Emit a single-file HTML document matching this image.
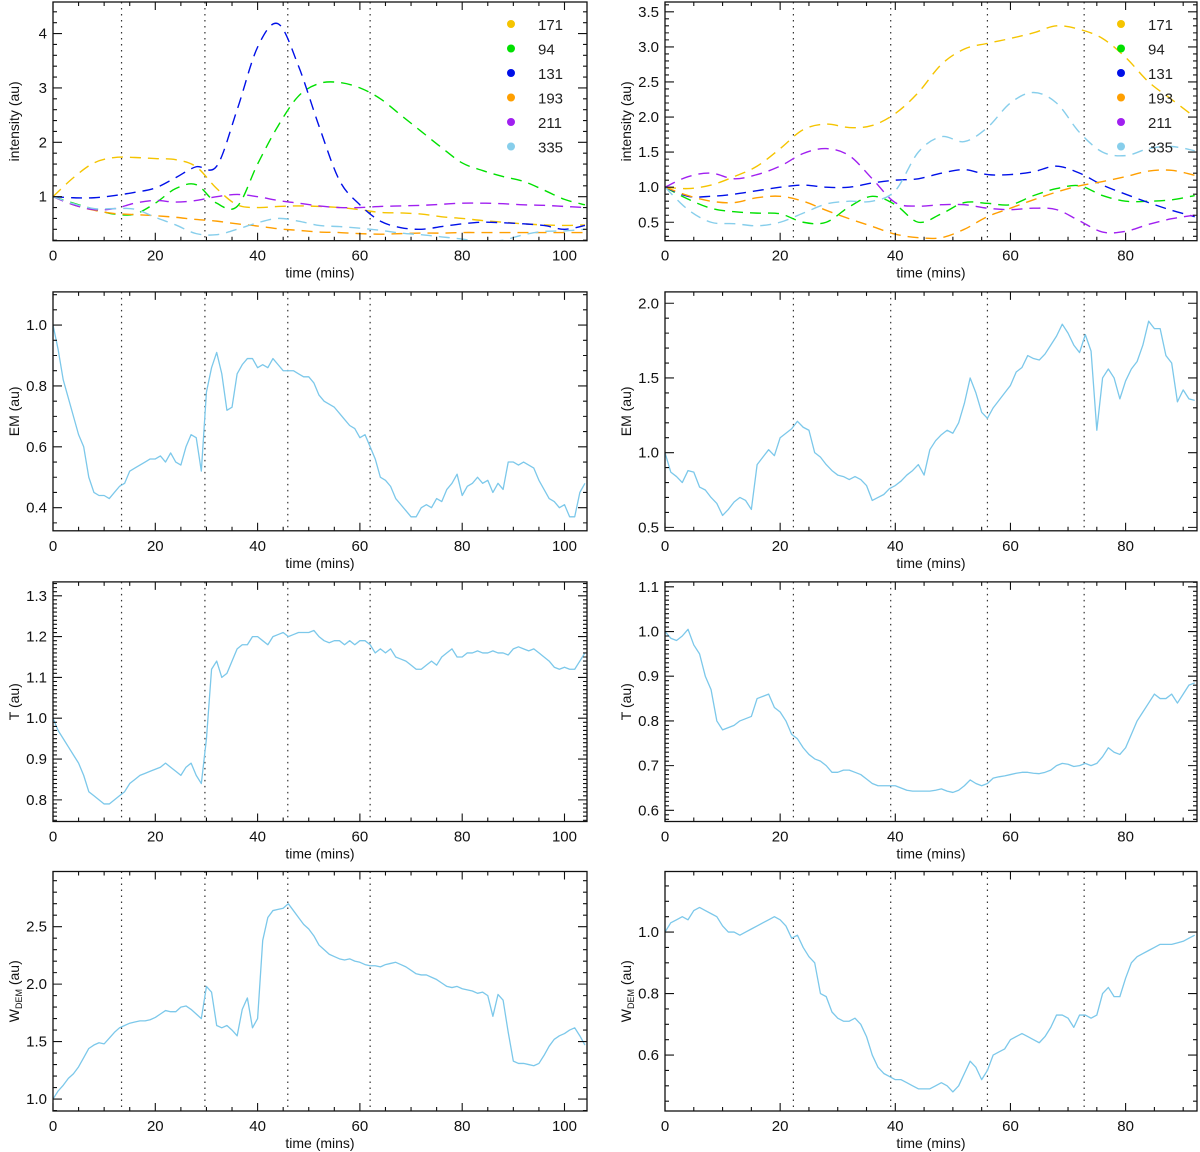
<!DOCTYPE html>
<html><head><meta charset="utf-8">
<style>
html,body{margin:0;padding:0;background:#fff;}
svg{display:block;font-family:"Liberation Sans",Arial,sans-serif;}
</style></head>
<body>
<svg id="chart" width="1200" height="1152" viewBox="0 0 1200 1152" xmlns="http://www.w3.org/2000/svg"></svg>
<script>
// ---------- data ----------
const seriesNames = ["171","94","131","193","211","335"];
const seriesColors = ["#f5c400","#00e000","#0010e8","#ff9f00","#a020f0","#87ceeb"];
const intTimesL = [0,4,8,12,16,20,24,28,32,36,40,44,48,52,56,60,64,68,72,76,80,84,88,92,96,100,104];
const int171L = [1.0,1.35,1.62,1.72,1.72,1.70,1.68,1.55,1.15,0.85,0.80,0.82,0.83,0.82,0.80,0.76,0.71,0.70,0.68,0.63,0.60,0.56,0.53,0.50,0.48,0.47,0.48];
const int94L  = [1.0,0.88,0.77,0.68,0.68,0.88,1.15,1.22,0.88,0.82,1.6,2.3,2.85,3.08,3.10,3.0,2.8,2.5,2.2,1.9,1.62,1.48,1.37,1.28,1.12,0.95,0.85];
const int131L = [1.0,0.98,0.98,1.02,1.08,1.16,1.35,1.55,1.56,2.6,3.75,4.18,3.4,2.3,1.3,0.85,0.55,0.43,0.40,0.45,0.50,0.53,0.52,0.50,0.47,0.40,0.47];
const int193L = [1.0,0.85,0.75,0.69,0.67,0.65,0.62,0.58,0.55,0.50,0.46,0.41,0.38,0.35,0.34,0.32,0.31,0.32,0.33,0.33,0.34,0.34,0.34,0.34,0.34,0.34,0.34];
const int211L = [1.0,0.85,0.76,0.78,0.88,0.93,0.90,0.93,1.0,1.04,1.0,0.93,0.88,0.83,0.80,0.80,0.82,0.83,0.84,0.86,0.88,0.88,0.87,0.85,0.84,0.82,0.80];
const int335L = [1.0,0.87,0.78,0.78,0.77,0.62,0.48,0.32,0.30,0.40,0.52,0.60,0.55,0.47,0.45,0.42,0.38,0.33,0.30,0.26,0.22,0.17,0.20,0.30,0.36,0.37,0.40];
const intTimesR = [0,4,8,12,16,20,24,28,32,36,40,44,48,52,56,60,64,68,72,76,80,84,88,92];
const int171R = [1.0,0.98,1.03,1.15,1.3,1.55,1.82,1.90,1.85,1.88,2.05,2.35,2.75,2.97,3.05,3.12,3.2,3.3,3.25,3.12,2.85,2.5,2.25,2.0];
const int94R  = [1.0,0.83,0.70,0.65,0.63,0.62,0.50,0.50,0.72,0.87,0.75,0.50,0.62,0.78,0.77,0.75,0.88,0.98,1.02,0.88,0.80,0.80,0.82,0.88];
const int131R = [1.0,0.87,0.87,0.90,0.95,1.0,1.03,1.0,1.0,1.06,1.10,1.12,1.20,1.25,1.18,1.18,1.22,1.30,1.20,1.03,0.90,0.78,0.67,0.58];
const int193R = [1.0,0.88,0.80,0.78,0.85,0.87,0.80,0.67,0.55,0.44,0.33,0.28,0.28,0.40,0.58,0.70,0.82,0.93,1.02,1.08,1.15,1.23,1.24,1.17];
const int211R = [1.0,1.15,1.20,1.12,1.18,1.30,1.48,1.55,1.45,1.12,0.78,0.73,0.75,0.75,0.70,0.68,0.70,0.68,0.52,0.36,0.37,0.47,0.55,0.60];
const int335R = [1.0,0.68,0.50,0.48,0.45,0.50,0.63,0.76,0.80,0.80,0.95,1.5,1.72,1.65,1.85,2.2,2.35,2.2,1.78,1.5,1.45,1.55,1.58,1.52];

const emL = [1.0,0.92,0.82,0.76,0.70,0.64,0.60,0.50,0.45,0.44,0.44,0.43,0.45,0.47,0.48,0.52,0.53,0.54,0.55,0.56,0.56,0.57,0.55,0.58,0.55,0.54,0.60,0.64,0.63,0.52,0.78,0.86,0.91,0.84,0.72,0.73,0.84,0.87,0.89,0.89,0.86,0.87,0.86,0.89,0.87,0.85,0.85,0.85,0.84,0.83,0.83,0.81,0.77,0.75,0.74,0.73,0.71,0.69,0.67,0.66,0.63,0.64,0.60,0.56,0.50,0.49,0.47,0.43,0.41,0.39,0.37,0.37,0.40,0.41,0.40,0.43,0.42,0.46,0.48,0.51,0.44,0.47,0.48,0.50,0.48,0.49,0.45,0.48,0.46,0.55,0.55,0.54,0.55,0.54,0.53,0.49,0.46,0.43,0.42,0.40,0.41,0.37,0.37,0.45,0.48];
const tL = [1.0,0.97,0.95,0.93,0.91,0.89,0.86,0.82,0.81,0.80,0.79,0.79,0.80,0.81,0.82,0.84,0.85,0.86,0.865,0.87,0.875,0.88,0.89,0.88,0.87,0.86,0.88,0.89,0.86,0.84,0.95,1.12,1.14,1.10,1.11,1.14,1.17,1.18,1.18,1.20,1.20,1.19,1.18,1.20,1.205,1.21,1.20,1.205,1.21,1.21,1.21,1.215,1.20,1.19,1.185,1.19,1.19,1.18,1.19,1.18,1.19,1.19,1.18,1.16,1.17,1.16,1.17,1.15,1.145,1.14,1.13,1.12,1.12,1.13,1.14,1.13,1.15,1.16,1.17,1.15,1.15,1.16,1.16,1.165,1.16,1.16,1.165,1.16,1.16,1.155,1.17,1.175,1.17,1.165,1.17,1.16,1.15,1.14,1.125,1.12,1.125,1.12,1.12,1.14,1.16];
const wL = [1.0,1.07,1.12,1.18,1.22,1.28,1.36,1.44,1.47,1.49,1.48,1.53,1.58,1.62,1.64,1.66,1.67,1.68,1.68,1.69,1.71,1.74,1.77,1.76,1.76,1.80,1.81,1.78,1.74,1.70,1.98,1.93,1.64,1.62,1.64,1.60,1.55,1.78,1.88,1.62,1.70,2.38,2.58,2.64,2.65,2.66,2.70,2.64,2.58,2.52,2.48,2.42,2.34,2.30,2.26,2.24,2.22,2.21,2.22,2.20,2.19,2.17,2.16,2.16,2.15,2.17,2.18,2.19,2.17,2.15,2.12,2.09,2.08,2.08,2.06,2.04,2.01,1.98,1.97,1.98,1.96,1.95,1.94,1.92,1.93,1.90,1.72,1.91,1.86,1.58,1.33,1.31,1.31,1.30,1.29,1.31,1.38,1.46,1.52,1.55,1.57,1.60,1.62,1.55,1.47];
const emR = [1.0,0.87,0.84,0.80,0.88,0.87,0.77,0.75,0.70,0.66,0.58,0.62,0.67,0.70,0.68,0.62,0.92,0.97,1.02,0.98,1.10,1.13,1.16,1.21,1.17,1.15,1.00,0.97,0.92,0.88,0.85,0.84,0.82,0.84,0.82,0.78,0.68,0.70,0.72,0.76,0.78,0.81,0.85,0.88,0.92,0.85,1.02,1.08,1.12,1.15,1.13,1.20,1.33,1.50,1.40,1.27,1.23,1.30,1.35,1.40,1.45,1.54,1.57,1.65,1.63,1.62,1.66,1.72,1.78,1.86,1.80,1.72,1.67,1.79,1.68,1.15,1.50,1.56,1.50,1.36,1.48,1.56,1.61,1.72,1.88,1.83,1.83,1.65,1.60,1.34,1.42,1.36,1.35];
const tR = [1.0,0.985,0.98,0.99,1.005,0.97,0.95,0.90,0.87,0.80,0.78,0.785,0.79,0.80,0.805,0.81,0.85,0.855,0.86,0.83,0.82,0.80,0.77,0.76,0.74,0.725,0.715,0.71,0.70,0.685,0.685,0.69,0.69,0.685,0.68,0.67,0.66,0.655,0.655,0.655,0.655,0.65,0.645,0.643,0.643,0.643,0.643,0.645,0.648,0.643,0.64,0.645,0.655,0.668,0.66,0.655,0.66,0.672,0.675,0.677,0.68,0.683,0.685,0.685,0.683,0.682,0.685,0.69,0.70,0.705,0.703,0.698,0.70,0.705,0.70,0.705,0.72,0.74,0.73,0.725,0.74,0.77,0.80,0.82,0.84,0.86,0.85,0.85,0.86,0.84,0.86,0.88,0.885];
const wR = [1.0,1.03,1.04,1.05,1.04,1.07,1.08,1.07,1.06,1.05,1.02,1.0,1.0,0.99,1.0,1.01,1.02,1.03,1.04,1.05,1.04,1.02,0.98,0.99,0.95,0.92,0.90,0.80,0.79,0.74,0.72,0.71,0.71,0.72,0.70,0.66,0.60,0.56,0.54,0.53,0.52,0.52,0.51,0.50,0.49,0.49,0.49,0.50,0.51,0.50,0.48,0.50,0.54,0.58,0.56,0.52,0.55,0.60,0.61,0.62,0.65,0.66,0.67,0.66,0.65,0.64,0.66,0.69,0.73,0.73,0.72,0.69,0.73,0.73,0.72,0.73,0.80,0.82,0.79,0.79,0.85,0.90,0.92,0.93,0.94,0.95,0.96,0.96,0.96,0.965,0.97,0.98,0.99];
const eventsL = [13.4,29.7,45.9,62.0];
const eventsR = [22.3,39.2,56.0,72.8];
const xTicksL = [0,20,40,60,80,100];
const xTicksR = [0,20,40,60,80];

// ---------- layout ----------
const NS = "http://www.w3.org/2000/svg";
const svg = document.getElementById("chart");
function mk(tag, attrs, parent){ const e=document.createElementNS(NS,tag); for(const k in attrs) e.setAttribute(k,attrs[k]); (parent||svg).appendChild(e); return e; }

const colL = {x0:53, x1:587, xmax:104.4};
const colR = {x0:665, x1:1197, xmax:92.4};
const rows = [{y0:2,y1:240.7},{y0:291.9,y1:530.8},{y0:581.9,y1:821.5},{y0:871.5,y1:1111}];

function catmull(pts){
  if(pts.length<2) return "";
  let d="M"+pts[0][0].toFixed(2)+","+pts[0][1].toFixed(2);
  for(let i=0;i<pts.length-1;i++){
    const p0=pts[i-1]||pts[i], p1=pts[i], p2=pts[i+1], p3=pts[i+2]||p2;
    const c1=[p1[0]+(p2[0]-p0[0])/6, p1[1]+(p2[1]-p0[1])/6];
    const c2=[p2[0]-(p3[0]-p1[0])/6, p2[1]-(p3[1]-p1[1])/6];
    d+=" C"+c1[0].toFixed(2)+","+c1[1].toFixed(2)+" "+c2[0].toFixed(2)+","+c2[1].toFixed(2)+" "+p2[0].toFixed(2)+","+p2[1].toFixed(2);
  }
  return d;
}

let clipId=0;
function panel(opt){
  const {col,row,ymin,ymax,major,minor,dec,ylabel,name,events,xticks} = opt;
  const g = mk("g",{});
  
  
  const X = v => col.x0 + (v/col.xmax)*(col.x1-col.x0);
  const Y = v => row.y1 - (v-ymin)/(ymax-ymin)*(row.y1-row.y0);
  const cid = "clip"+(clipId++);
  const cp = mk("clipPath",{id:cid},g);
  mk("rect",{x:col.x0,y:row.y0,width:col.x1-col.x0,height:row.y1-row.y0},cp);

  // event lines
  events.forEach(ev=>{
    const l = mk("line",{x1:X(ev),x2:X(ev),y1:row.y0,y2:row.y1,stroke:"#333","stroke-width":1.2,"stroke-dasharray":"1.5,4.5"},g);
    
    
  });

  // data
  const dg = mk("g",{"clip-path":"url(#"+cid+")"},g);
  if(opt.series){
    opt.series.forEach((s,si)=>{
      const pts = s.vals.map((v,i)=>[X(opt.times[i]),Y(v)]);
      const p = mk("path",{d:catmull(pts),fill:"none",stroke:seriesColors[si],"stroke-width":1.4,"stroke-dasharray":"11,7"},dg);
      
      
    });
  } else {
    const pts = opt.vals.map((v,i)=>X(i).toFixed(2)+","+Y(v).toFixed(2)).join(" ");
    const p = mk("polyline",{points:pts,fill:"none",stroke:"#7cc8ea","stroke-width":1.3,"stroke-linejoin":"round"},dg);
    
    
  }

  // frame
  const fr = mk("rect",{x:col.x0,y:row.y0,width:col.x1-col.x0,height:row.y1-row.y0,fill:"none",stroke:"#111","stroke-width":1.3},g);
  
  

  // x ticks
  let tk="";
  for(let v=0; v<=col.xmax+0.001; v+=5){
    const len = (v%20===0)?8:4; const x=X(v);
    tk+=`M${x},${row.y1}v${-len}M${x},${row.y0}v${len}`;
  }
  // y ticks
  const n0=Math.ceil(ymin/minor-1e-6), n1=Math.floor(ymax/minor+1e-6);
  const ratio=Math.round(major/minor);
  for(let n=n0;n<=n1;n++){
    const v=n*minor, y=Y(v);
    const len = (n%ratio===0)?9:4;
    tk+=`M${col.x0},${y}h${len}M${col.x1},${y}h${-len}`;
  }
  mk("path",{d:tk,stroke:"#111","stroke-width":1.1,fill:"none"},g);

  xticks.forEach(v=>{
    const t=mk("text",{x:X(v),y:row.y1+20,"text-anchor":"middle","font-size":15,fill:"#111"},g);
    t.textContent=String(v);
    
    
  });
  const m0=Math.ceil(ymin/major-1e-6), m1=Math.floor(ymax/major+1e-6);
  for(let n=m0;n<=m1;n++){
    const v=n*major;
    const t=mk("text",{x:col.x0-6,y:Y(v)+5,"text-anchor":"end","font-size":15,fill:"#111"},g);
    t.textContent=v.toFixed(dec);
    
    
  }
  const xt=mk("text",{x:(col.x0+col.x1)/2,y:row.y1+37,"text-anchor":"middle","font-size":14,fill:"#111"},g);
  xt.textContent="time  (mins)";
  
  

  const cy=(row.y0+row.y1)/2, lx=col.x0-34;
  const yt=mk("text",{x:lx,y:cy,"text-anchor":"middle","font-size":14,fill:"#111",transform:`rotate(-90 ${lx} ${cy})`},g);
  if(ylabel==="W"){
    yt.appendChild(document.createTextNode("W"));
    const s=mk("tspan",{"font-size":9,dy:3},yt); s.textContent="DEM";
    const s2=mk("tspan",{dy:-3},yt); s2.textContent="  (au)";
  } else yt.textContent=ylabel;
  
  

  if(opt.series){
    const lx0 = col.x1-76;
    seriesNames.forEach((nm,i)=>{
      const ly=24+i*24.5;
      const c=mk("circle",{cx:lx0,cy:ly,r:4,fill:seriesColors[i]},g);
      
      
      const t=mk("text",{x:lx0+27,y:ly+6,"font-size":15,fill:"#222"},g);
      t.textContent=nm;
      
      
    });
  }
}

const serL=[int171L,int94L,int131L,int193L,int211L,int335L].map(v=>({vals:v}));
const serR=[int171R,int94R,int131R,int193R,int211R,int335R].map(v=>({vals:v}));

panel({col:colL,row:rows[0],ymin:0.19,ymax:4.58,major:1,minor:0.2,dec:0,ylabel:"intensity  (au)",name:"intensity-panel-left",events:eventsL,xticks:xTicksL,series:serL,times:intTimesL});
panel({col:colR,row:rows[0],ymin:0.237,ymax:3.64,major:0.5,minor:0.1,dec:1,ylabel:"intensity  (au)",name:"intensity-panel-right",events:eventsR,xticks:xTicksR,series:serR,times:intTimesR});
panel({col:colL,row:rows[1],ymin:0.324,ymax:1.109,major:0.2,minor:0.05,dec:1,ylabel:"EM  (au)",name:"em-panel-left",events:eventsL,xticks:xTicksL,vals:emL});
panel({col:colR,row:rows[1],ymin:0.477,ymax:2.076,major:0.5,minor:0.1,dec:1,ylabel:"EM  (au)",name:"em-panel-right",events:eventsR,xticks:xTicksR,vals:emR});
panel({col:colL,row:rows[2],ymin:0.747,ymax:1.334,major:0.1,minor:0.01,dec:1,ylabel:"T  (au)",name:"temperature-panel-left",events:eventsL,xticks:xTicksL,vals:tL});
panel({col:colR,row:rows[2],ymin:0.575,ymax:1.111,major:0.1,minor:0.01,dec:1,ylabel:"T  (au)",name:"temperature-panel-right",events:eventsR,xticks:xTicksR,vals:tR});
panel({col:colL,row:rows[3],ymin:0.896,ymax:2.98,major:0.5,minor:0.1,dec:1,ylabel:"W",name:"wdem-panel-left",events:eventsL,xticks:xTicksL,vals:wL});
panel({col:colR,row:rows[3],ymin:0.418,ymax:1.197,major:0.2,minor:0.05,dec:1,ylabel:"W",name:"wdem-panel-right",events:eventsR,xticks:xTicksR,vals:wR});
</script>
</body></html>
